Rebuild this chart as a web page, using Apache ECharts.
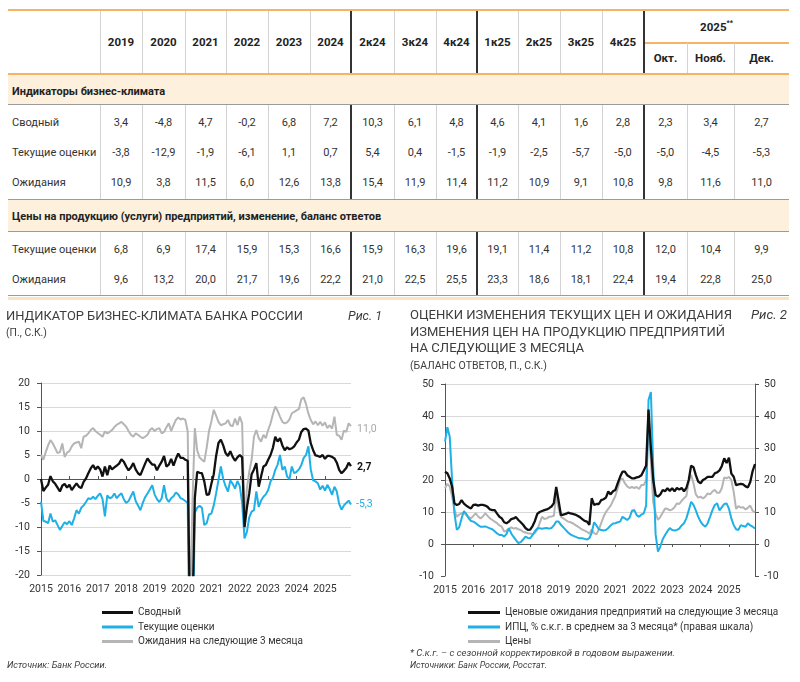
<!DOCTYPE html>
<html><head><meta charset="utf-8">
<script src="https://cdn.jsdelivr.net/npm/echarts@6.0.0/dist/echarts.min.js"></script>
<style>
html,body{margin:0;padding:0;background:#fff;overflow:hidden;width:800px;height:682px;}
#wrap{position:absolute;left:0;top:0;height:682px;transform-origin:0 0;font-family:Roboto,'Noto Sans',sans-serif;}
#tbl{position:absolute;left:0;top:0;width:100%;height:300px;}
#chart{position:absolute;left:0;top:300px;width:100%;height:382px;}
.t{position:absolute;display:flex;align-items:center;white-space:nowrap;color:#333;font-size:11px;}
</style></head><body>
<div id="wrap"><div id="tbl"></div><div id="chart"></div></div>
<script>
// ---------------- DATA ----------------
const tableHeads = ['2019','2020','2021','2022','2023','2024','2к24','3к24','4к24','1к25','2к25','3к25','4к25','Окт.','Нояб.','Дек.'];
const tableGroupHead = '2025';
const section1Title = 'Индикаторы бизнес-климата';
const section2Title = 'Цены на продукцию (услуги) предприятий, изменение, баланс ответов';
const rowLabels1 = ['Сводный','Текущие оценки','Ожидания'];
const rowLabels2 = ['Текущие оценки','Ожидания'];
const tblSummary = [3.4,-4.8,4.7,-0.2,6.8,7.2,10.3,6.1,4.8,4.6,4.1,1.6,2.8,2.3,3.4,2.7];
const tblCurrent = [-3.8,-12.9,-1.9,-6.1,1.1,0.7,5.4,0.4,-1.5,-1.9,-2.5,-5.7,-5.0,-5.0,-4.5,-5.3];
const tblExpect  = [10.9,3.8,11.5,6.0,12.6,13.8,15.4,11.9,11.4,11.2,10.9,9.1,10.8,9.8,11.6,11.0];
const tblPriceCurrent = [6.8,6.9,17.4,15.9,15.3,16.6,15.9,16.3,19.6,19.1,11.4,11.2,10.8,12.0,10.4,9.9];
const tblPriceExpect  = [9.6,13.2,20.0,21.7,19.6,22.2,21.0,22.5,25.5,23.3,18.6,18.1,22.4,19.4,22.8,25.0];

const yearLabels = ['2015','2016','2017','2018','2019','2020','2021','2022','2023','2024','2025'];

// Chart 1: business climate indicator, monthly 2015-01 .. 2025-12
const bciSummary = [
  0.0,-2.5,-1.8,-1.2,0.6,-0.5,-1.0,-1.8,-2.6,-1.4,-1.0,-1.8,
  -1.2,-2.3,-1.6,-0.9,-1.6,-1.9,-0.6,0.1,1.2,2.2,2.9,2.0,
  2.6,2.0,0.5,2.6,0.8,2.8,2.0,2.4,2.8,3.2,4.1,3.6,
  2.6,1.8,2.4,3.3,2.0,1.2,0.8,2.0,3.2,4.3,3.6,3.0,
  3.0,1.8,2.8,3.6,4.8,2.6,3.0,4.2,2.8,4.2,5.3,4.4,
  4.4,4.0,3.8,-32,-28,-4.0,1.5,1.3,1.2,-0.5,-3.3,-3.2,
  -1.0,1.0,4.8,7.5,8.2,7.0,5.4,4.8,5.8,4.6,3.8,4.5,
  5.0,4.5,-10.0,-6.0,-3.0,1.0,2.0,3.3,-1.6,0.5,2.6,2.9,
  4.0,5.0,6.5,8.8,7.8,8.5,7.0,6.0,6.6,6.2,6.4,6.8,
  7.6,8.2,9.8,10.4,10.5,10.1,7.4,6.0,4.9,4.8,4.6,5.0,
  4.2,4.8,4.8,4.6,4.3,3.4,1.9,1.2,1.7,2.3,3.4,2.7
];
const bciCurrent = [
  -4.7,-8.7,-8.9,-9.2,-7.2,-8.9,-8.6,-9.6,-10.6,-9.8,-9.0,-9.4,
  -8.8,-9.6,-8.2,-6.5,-7.2,-6.0,-5.5,-4.8,-4.0,-4.2,-3.7,-4.2,
  -3.5,-3.0,-4.2,-7.8,-3.4,-4.0,-3.8,-3.0,-4.0,-3.4,-3.0,-4.2,
  -5.0,-4.6,-3.6,-2.6,-4.6,-5.5,-6.5,-5.0,-3.8,-3.0,-2.2,-1.3,
  -3.2,-4.2,-4.8,-4.0,-1.3,-4.0,-4.8,-4.0,-3.6,-2.8,-3.2,-4.0,
  -4.2,-4.6,-5.0,-45,-40,-7.0,-6.0,-5.6,-6.0,-9.6,-9.2,-7.4,
  -7.2,-5.5,-3.0,-0.2,2.6,0.0,-1.5,-2.6,-0.3,-1.0,-2.0,-0.4,
  -1.5,-5.0,-12.4,-11.0,-8.0,-6.8,-6.5,-2.6,-5.8,-4.5,-3.7,-3.2,
  -2.3,-0.5,0.2,1.9,3.0,5.0,1.9,2.6,0.5,0.0,2.6,1.2,
  1.5,2.0,2.9,4.4,5.0,6.8,2.0,-0.3,-0.5,-0.9,-2.2,-1.4,
  -2.4,-1.2,-2.1,-3.3,-1.6,-2.6,-5.2,-6.4,-5.5,-5.0,-4.5,-5.3
];
const bciExpect = [
  5.0,4.0,5.6,7.0,8.1,7.4,6.4,5.4,5.6,7.4,4.6,5.5,
  5.8,6.8,7.4,7.6,7.8,6.4,8.8,9.0,9.5,10.2,10.6,10.0,
  9.6,9.2,8.8,9.9,9.5,9.8,10.2,10.8,11.3,11.6,11.9,11.4,
  10.9,10.0,9.2,8.8,9.5,9.2,8.8,8.5,8.8,9.2,10.2,10.6,
  10.0,10.4,10.6,9.5,9.8,10.8,11.6,10.0,11.2,12.3,12.8,12.4,
  12.6,12.3,9.9,-28,-5.0,10.6,6.0,4.5,4.0,3.6,6.5,10.0,
  12.0,14.4,13.2,11.9,11.2,11.4,11.6,12.3,11.2,11.0,12.6,11.2,
  13.0,11.6,-10.5,-2.0,1.5,4.0,8.8,10.2,8.5,7.8,9.2,8.5,
  10.2,11.6,13.5,15.1,14.2,13.0,11.9,11.6,11.8,12.4,13.7,14.0,
  14.3,14.6,16.6,17.0,15.6,13.6,12.3,11.4,12.0,11.2,11.9,11.1,
  11.8,10.6,11.2,10.5,13.0,9.2,9.0,8.2,10.1,9.8,11.6,11.0
];

// Chart 2: price assessments, monthly 2015-01 .. 2025-12
const priceExpect = [
  22.6,22.1,20.5,17.9,12.7,12.2,12.5,13.7,12.6,12.0,11.5,11.1,
  12.2,12.3,12.0,12.2,12.2,12.0,11.6,10.8,10.6,10.6,9.5,8.5,
  8.0,6.8,6.5,7.0,7.8,8.0,8.4,7.5,6.8,6.0,5.0,4.4,
  4.5,5.6,7.2,9.4,10.0,10.3,10.6,10.8,11.2,11.7,12.8,17.8,
  13.5,9.0,9.2,9.4,9.8,9.6,9.4,9.2,8.8,8.4,7.8,7.2,
  7.0,6.0,14.3,12.2,12.5,12.5,13.7,14.0,14.5,16.4,15.5,16.5,
  16.9,19.0,21.0,22.6,22.6,21.5,21.0,20.5,20.5,20.8,21.0,21.5,
  23.0,24.5,42.0,30.0,20.0,15.3,14.8,15.5,16.9,16.5,17.4,16.6,
  17.4,16.5,17.5,17.0,17.5,16.5,17.5,20.0,24.5,24.0,21.5,19.5,
  19.0,20.0,20.4,21.0,21.0,21.0,22.1,22.4,23.0,24.4,26.8,25.3,
  27.0,22.0,21.0,18.4,18.6,18.8,18.6,18.0,17.7,19.4,22.8,25.0
];
const priceCurrent = [
  17.4,18.8,17.9,14.8,10.6,8.5,9.2,9.6,9.8,9.0,8.5,8.0,
  8.8,9.6,8.6,8.0,8.6,9.6,8.8,8.0,7.5,7.0,6.5,5.8,
  5.4,3.9,4.2,4.8,5.2,4.8,5.0,4.6,4.4,3.8,3.6,3.3,
  3.3,3.0,3.5,4.4,6.5,8.5,7.8,8.0,8.5,8.6,8.8,15.3,
  11.0,8.5,8.0,7.5,7.0,6.8,6.5,6.0,5.5,5.0,4.5,4.2,
  3.8,3.2,4.5,3.4,3.0,4.5,6.5,8.5,10.0,11.0,12.0,13.5,
  15.0,17.4,20.0,20.5,19.0,18.0,17.5,17.8,17.5,17.8,17.2,18.4,
  18.4,20.0,36.0,26.0,13.0,9.6,7.5,8.5,9.8,11.1,11.0,10.5,
  10.8,11.5,12.7,12.5,13.5,14.3,15.0,19.5,21.6,19.0,15.5,14.5,
  14.8,14.2,14.8,15.8,15.5,16.4,16.9,16.0,16.0,17.5,20.8,20.5,
  21.0,20.0,16.3,11.0,11.8,11.4,11.5,10.8,11.3,12.0,10.4,9.9
];
const cpi3m = [
  32.0,36.5,33.5,20.0,9.5,4.4,5.2,8.0,10.3,9.4,8.0,7.2,
  7.0,6.5,5.9,5.4,5.4,5.5,5.2,4.9,4.6,4.0,3.3,2.8,
  2.8,2.3,3.2,4.9,3.3,2.2,1.2,0.3,0.6,1.4,2.3,1.9,
  1.8,2.8,4.0,4.9,4.9,4.8,4.9,5.0,4.8,5.0,5.8,7.0,
  7.0,6.0,5.2,4.4,3.6,3.0,2.6,2.3,2.0,1.8,1.8,1.6,
  1.4,1.8,3.5,6.8,5.8,4.6,4.4,4.2,4.4,5.0,5.8,6.4,
  6.5,6.8,7.0,8.5,8.0,7.5,8.2,10.4,10.6,9.0,8.5,9.2,
  9.6,12.0,45.0,47.5,24.0,3.0,-2.4,-0.8,1.5,2.8,4.0,5.0,
  4.4,4.2,4.4,4.8,5.8,6.5,8.0,10.5,13.2,12.2,10.5,8.5,
  7.0,6.0,5.4,6.5,8.5,10.6,12.2,12.7,10.5,11.5,12.5,12.7,
  11.0,8.0,5.9,4.6,4.4,5.9,5.6,5.4,6.5,5.8,5.4,4.9
];

// ---------------- LAYOUT ----------------
const S = 1;
const X = v => v / S;
document.getElementById('wrap').style.width = (800 / S) + 'px';
document.getElementById('wrap').style.transform = 'scaleX(' + S + ')';

const fmt = v => v.toFixed(1).replace('.', ',');

// ---------------- TABLE ----------------
const colEdges = [100,142,185,226,268,310,351,394,436,477,518,560,602,644,687,734,789];
const darkEdges = [351,477,644];
const ORANGE = '#f5b464', CREAM = '#fdf0dc', RULE = '#9b9b9b', VLINE = '#d3d3d3', VDARK = '#333';
const tblEl = document.getElementById('tbl');
function rect(x, y, w, h, bg) {
  const d = document.createElement('div');
  d.style.cssText = `position:absolute;left:${X(x)}px;top:${y}px;width:${X(w)}px;height:${h}px;background:${bg};`;
  tblEl.appendChild(d); return d;
}
function txt(x, y, w, h, html, css) {
  const d = document.createElement('div');
  d.className = 't';
  d.style.cssText = `left:${X(x)}px;top:${y}px;width:${X(w)}px;height:${h}px;` + (css || '');
  d.innerHTML = html; tblEl.appendChild(d); return d;
}
rect(8, 75, 781, 29, CREAM);
rect(8, 200, 781, 31, CREAM);
rect(8, 9, 781, 2, ORANGE);
rect(644, 42, 145, 1.5, ORANGE);
rect(8, 73, 781, 2, ORANGE);
rect(8, 104, 781, 1, RULE);
rect(8, 199, 781, 1, RULE);
rect(8, 231, 781, 1, RULE);
rect(8, 295, 781, 1, RULE);
rect(8, 297, 781, 3, '#fbe3c1');
for (let i = 0; i < colEdges.length - 1; i++) {
  const e = colEdges[i];
  const dark = darkEdges.includes(e);
  const c = dark ? VDARK : VLINE, w = dark ? 1.5 : 1;
  const hTop = (e === 687 || e === 734) ? 43 : 11;
  rect(e - w / 2, hTop, w, 73 - hTop, c);
  rect(e - w / 2, 105, w, 94, c);
  rect(e - w / 2, 232, w, 63, c);
}
const headCss = 'justify-content:center;font-weight:bold;color:#222;font-size:11.5px;';
for (let i = 0; i < 13; i++) txt(colEdges[i], 11, colEdges[i + 1] - colEdges[i], 62, tableHeads[i], headCss);
txt(644, 11, 145, 31, tableGroupHead + '<span style="font-size:7px;position:relative;top:-4px">**</span>', headCss);
for (let i = 13; i < 16; i++) txt(colEdges[i], 43, colEdges[i + 1] - colEdges[i], 30, tableHeads[i], headCss);
const secCss = 'font-weight:bold;color:#222;font-size:11px;';
txt(12, 76, 700, 30, section1Title, secCss);
txt(12, 201, 700, 30, section2Title, secCss);
const rows = [
  [rowLabels1[0], tblSummary, 122], [rowLabels1[1], tblCurrent, 152], [rowLabels1[2], tblExpect, 182],
  [rowLabels2[0], tblPriceCurrent, 249], [rowLabels2[1], tblPriceExpect, 279]
];
rows.forEach(([lab, vals, cy]) => {
  txt(12, cy - 15, 88, 30, lab, 'color:#333;');
  vals.forEach((v, i) => txt(colEdges[i], cy - 15, colEdges[i + 1] - colEdges[i], 30, fmt(v), 'justify-content:center;color:#333;'));
});

// ---------------- CHARTS ----------------
const months = [];
yearLabels.forEach(y => { for (let m = 1; m <= 12; m++) months.push(y + '-' + String(m).padStart(2, '0')); });

const C_BLACK = '#111111', C_CYAN = '#1eb0e6', C_GRAY = '#b5b5b5';
const AX = '#555', SPLIT = '#d9d9d9';
const lbl = { fontFamily: 'Roboto', fontSize: 10.5, color: '#333' };
const yearIdx = i => i % 12 === 0;

function xLabelAxis(gi) {
  return { type: 'category', gridIndex: gi, data: months, boundaryGap: false,
    axisLine: { show: false, onZero: false }, axisTick: { show: false },
    axisLabel: Object.assign({}, lbl, { interval: yearIdx, formatter: (v, i) => (i % 12 === 0 ? v.slice(0, 4) : ''), margin: 9 }),
    splitLine: { show: false } };
}
function xZeroAxis(gi, inside) {
  return { type: 'category', gridIndex: gi, data: months, boundaryGap: false, position: 'bottom',
    axisLine: { show: true, onZero: true, lineStyle: { color: AX, width: 1 } },
    axisTick: { show: true, inside: inside, length: 3, interval: yearIdx, lineStyle: { color: AX } },
    axisLabel: { show: false }, splitLine: { show: false } };
}

const mctx = document.createElement('canvas').getContext('2d');
function fit(text, font, target) {
  mctx.font = font;
  const s = target / mctx.measureText(text).width;
  return Math.max(0.8, Math.min(1.2, s));
}
function gtext(text, x, yc, size, target, opts) {
  opts = opts || {};
  const style = opts.italic ? 'italic' : 'normal';
  const weight = opts.bold ? 'bold' : 'normal';
  const fam = 'Roboto';
  const sx = target ? fit(text, `${style} ${weight} ${size}px ${fam}`, target) : 1;
  return { type: 'text', x: X(x), y: yc, scaleX: sx, silent: true,
    style: { text: text, fontSize: size, fontFamily: fam, fontStyle: style, fontWeight: weight,
      fill: opts.color || '#3d3d3d', verticalAlign: 'middle', align: 'left' } };
}

const endFmt = p => fmt(p.value);

const option = {
  animation: false,
  grid: [
    { left: X(41), top: 83, width: X(310), height: 192, containLabel: false, outerBoundsMode: 'none' },
    { left: X(445), top: 84, width: X(310), height: 192, containLabel: false, outerBoundsMode: 'none' }
  ],
  xAxis: [xLabelAxis(0), xZeroAxis(0, true), xLabelAxis(1), xZeroAxis(1, false)],
  yAxis: [
    { type: 'value', gridIndex: 0, min: -20, max: 20, interval: 5,
      axisLine: { show: true, lineStyle: { color: AX } }, axisTick: { show: true, length: 4, lineStyle: { color: AX } },
      axisLabel: Object.assign({}, lbl, { margin: 11 }), splitLine: { show: true, lineStyle: { color: SPLIT, width: 1 } } },
    { type: 'value', gridIndex: 1, min: -10, max: 50, interval: 10, position: 'left',
      axisLine: { show: true, lineStyle: { color: AX } }, axisTick: { show: true, length: 4, lineStyle: { color: AX } },
      axisLabel: Object.assign({}, lbl, { margin: 11 }),
      splitLine: { show: true, lineStyle: { color: ['rgba(0,0,0,0)', SPLIT, SPLIT, SPLIT, SPLIT, SPLIT, SPLIT], width: 1 } } },
    { type: 'value', gridIndex: 1, min: -10, max: 50, interval: 10, position: 'right',
      axisLine: { show: true, lineStyle: { color: AX } }, axisTick: { show: true, length: 4, lineStyle: { color: AX } },
      axisLabel: Object.assign({}, lbl, { margin: 9 }), splitLine: { show: false } }
  ],
  legend: [
    { data: ['Сводный', 'Текущие оценки', 'Ожидания на следующие 3 месяца'], left: X(102), top: 306.5, orient: 'vertical',
      icon: 'rect', itemWidth: X(31), itemHeight: 3, itemGap: 2.5, padding: 0, selectedMode: false,
      textStyle: { fontFamily: 'Roboto', fontSize: 10, color: '#333', lineHeight: 12 } },
    { data: ['Ценовые ожидания предприятий на следующие 3 месяца', 'ИПЦ, % с.к.г. в среднем за 3 месяца* (правая шкала)', 'Цены'],
      left: X(468), top: 306.5, orient: 'vertical',
      icon: 'rect', itemWidth: X(32), itemHeight: 3, itemGap: 2.5, padding: 0, selectedMode: false,
      textStyle: { fontFamily: 'Roboto', fontSize: 10, color: '#333', lineHeight: 12 } }
  ],
  series: [
    { name: 'Ожидания на следующие 3 месяца', type: 'line', xAxisIndex: 0, yAxisIndex: 0, data: bciExpect, symbol: 'none', z: 2,
      lineStyle: { color: C_GRAY, width: 2 }, itemStyle: { color: C_GRAY },
      endLabel: { show: true, formatter: endFmt, color: '#a8a8a8', fontFamily: 'Roboto', fontSize: 10.5, distance: 6, offset: [0, 3] } },
    { name: 'Текущие оценки', type: 'line', xAxisIndex: 0, yAxisIndex: 0, data: bciCurrent, symbol: 'none', z: 3,
      lineStyle: { color: C_CYAN, width: 2 }, itemStyle: { color: C_CYAN },
      endLabel: { show: true, formatter: endFmt, color: C_CYAN, fontFamily: 'Roboto', fontSize: 10.5, distance: 5 } },
    { name: 'Сводный', type: 'line', xAxisIndex: 0, yAxisIndex: 0, data: bciSummary, symbol: 'none', z: 4,
      lineStyle: { color: C_BLACK, width: 2.3 }, itemStyle: { color: C_BLACK },
      endLabel: { show: true, formatter: endFmt, color: '#111', fontWeight: 'bold', fontFamily: 'Roboto', fontSize: 10.5, distance: 6, offset: [0, 1] } },
    { name: 'Цены', type: 'line', xAxisIndex: 2, yAxisIndex: 1, data: priceCurrent, symbol: 'none', z: 2,
      lineStyle: { color: C_GRAY, width: 2 }, itemStyle: { color: C_GRAY } },
    { name: 'ИПЦ, % с.к.г. в среднем за 3 месяца* (правая шкала)', type: 'line', xAxisIndex: 2, yAxisIndex: 2, data: cpi3m, symbol: 'none', z: 3,
      lineStyle: { color: C_CYAN, width: 2 }, itemStyle: { color: C_CYAN } },
    { name: 'Ценовые ожидания предприятий на следующие 3 месяца', type: 'line', xAxisIndex: 2, yAxisIndex: 1, data: priceExpect, symbol: 'none', z: 4,
      lineStyle: { color: C_BLACK, width: 2.3 }, itemStyle: { color: C_BLACK } }
  ],
  graphic: [
    gtext('ИНДИКАТОР БИЗНЕС-КЛИМАТА БАНКА РОССИИ', 6, 17, 13.5, 297),
    gtext('Рис. 1', 348, 17, 13.5, 34, { italic: true }),
    gtext('(П., С.К.)', 6, 33, 10, 41),
    gtext('ОЦЕНКИ ИЗМЕНЕНИЯ ТЕКУЩИХ ЦЕН И ОЖИДАНИЯ', 410, 16, 13.5, 322),
    gtext('ИЗМЕНЕНИЯ ЦЕН НА ПРОДУКЦИЮ ПРЕДПРИЯТИЙ', 410, 32.5, 13.5, 315),
    gtext('НА СЛЕДУЮЩИЕ 3 МЕСЯЦА', 410, 48.5, 13.5, 174),
    gtext('(БАЛАНС ОТВЕТОВ, П., С.К.)', 410, 66.5, 10, 137),
    gtext('Рис. 2', 751, 16, 13.5, 36, { italic: true }),
    gtext('Источник: Банк России.', 7, 366, 9.5, 100, { italic: true }),
    gtext('* С.к.г. – с сезонной корректировкой в годовом выражении.', 410, 354, 9.5, 265, { italic: true }),
    gtext('Источники: Банк России, Росстат.', 410, 366, 9.5, 137, { italic: true })
  ]
};
const chart = echarts.init(document.getElementById('chart'), null, { renderer: 'canvas' });
chart.setOption(option);
</script></body></html>
